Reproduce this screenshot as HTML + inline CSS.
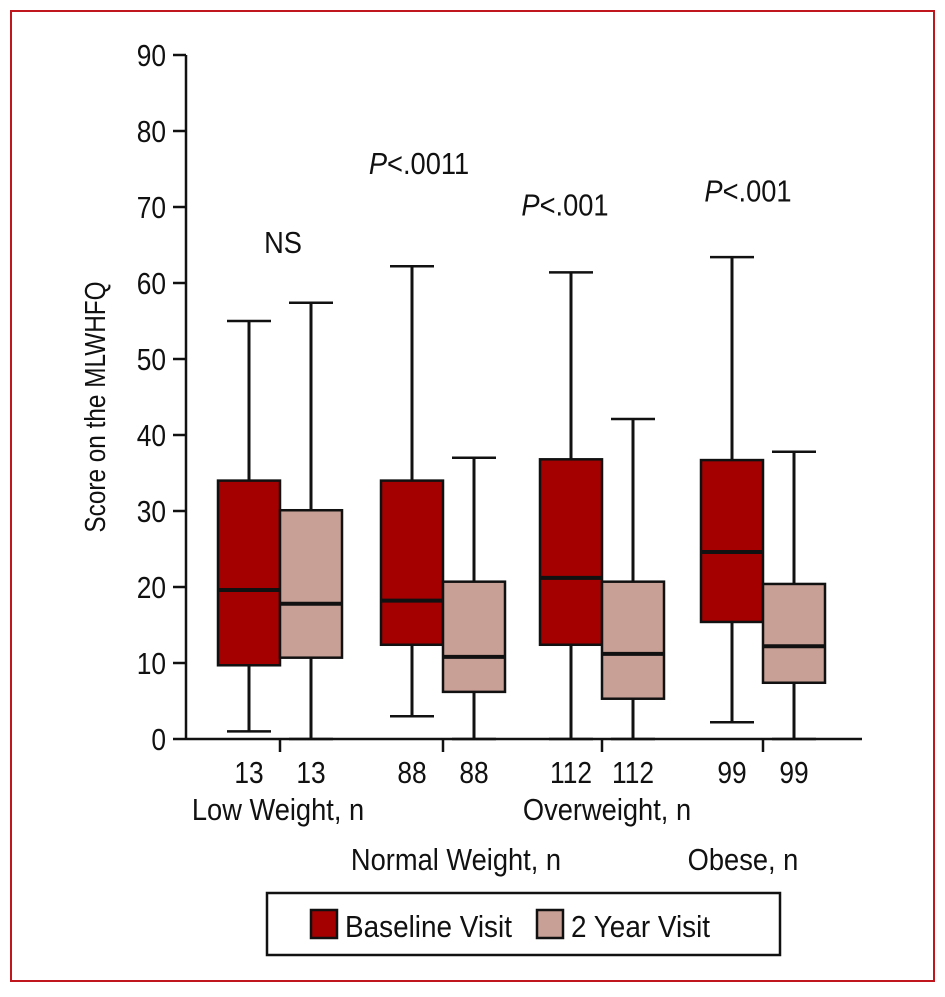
<!DOCTYPE html>
<html><head><meta charset="utf-8"><style>
body{margin:0;background:#fff}
svg text{font-family:"Liberation Sans Narrow","Liberation Sans",sans-serif;fill:#111}
</style></head><body>
<svg id="chart" width="945" height="992" xmlns="http://www.w3.org/2000/svg">
<rect x="11" y="11" width="923" height="970" fill="#fff" stroke="#c0161e" stroke-width="2"/>
<g id="plot"></g>
</svg>
<script>
const groups=["Low Weight","Normal Weight","Overweight","Obese"];
const counts=[13,88,112,99];
const pLabels=["NS","P<.0011","P<.001","P<.001"];
const pValueY=[65.4,75.8,70.3,72.2];
const baseMin=[1,3,0,2.2];
const baseQ1=[9.7,12.4,12.4,15.4];
const baseMed=[19.6,18.2,21.2,24.6];
const baseQ3=[34,34,36.8,36.7];
const baseMax=[55,62.2,61.4,63.4];
const yrMin=[0,0,0,0];
const yrQ1=[10.7,6.2,5.3,7.4];
const yrMed=[17.8,10.8,11.2,12.2];
const yrQ3=[30.1,20.7,20.7,20.4];
const yrMax=[57.4,37,42.1,37.8];
const yTicks=[0,10,20,30,40,50,60,70,80,90];

const NS="http://www.w3.org/2000/svg";
const g=document.getElementById('plot');
const y=v=>739-v*7.6;
const centers=[280,443,602,763];
const groupLabelX=[278,456,607,743];
const pLabelX=[283,419,565,748];
const bw=62;
const SX=0.88;
function mk(tag,attrs,text){const e=document.createElementNS(NS,tag);for(const k in attrs)e.setAttribute(k,attrs[k]);if(text!==undefined)e.textContent=text;g.appendChild(e);return e;}
function txt(x,yy,s,anchor,size,sx){return mk('text',{x:0,y:0,'text-anchor':anchor,'font-size':size,transform:`translate(${x},${yy}) scale(${sx||SX},1)`},s);}

let e=mk('line',{x1:186,y1:y(90),x2:186,y2:739,stroke:'#111','stroke-width':2.5});


e=mk('line',{x1:186,y1:739,x2:862,y2:739,stroke:'#111','stroke-width':2.5});


yTicks.forEach(t=>{
 let l=mk('line',{x1:173,y1:y(t),x2:186,y2:y(t),stroke:'#111','stroke-width':2.5});
 
 
 let tx=txt(166,y(t)+11,t,'end',31,0.85);
 
 
});
e=mk('text',{x:0,y:0,'font-size':29,'text-anchor':'middle',transform:'translate(105,407) rotate(-90) scale(0.84,1)'},'Score on the MLWHFQ');



function box(x,mn,q1,md,q3,mx,fill,name){
 let w=mk('line',{x1:x+bw/2,y1:y(mx),x2:x+bw/2,y2:y(mn),stroke:'#111','stroke-width':3});
 
 
 [mn,mx].forEach(v=>{let c=mk('line',{x1:x+9,y1:y(v),x2:x+bw-9,y2:y(v),stroke:'#111','stroke-width':2.5});
  
  });
 let r=mk('rect',{x:x,y:y(q3),width:bw,height:y(q1)-y(q3),fill:fill,stroke:'#111','stroke-width':2.5});
 
 
 let m=mk('line',{x1:x,y1:y(md),x2:x+bw,y2:y(md),stroke:'#111','stroke-width':4});
 
 
}
groups.forEach((gr,i)=>{
 const c=centers[i];
 box(c-bw,baseMin[i],baseQ1[i],baseMed[i],baseQ3[i],baseMax[i],'#a50000','baseline-'+i);
 box(c,yrMin[i],yrQ1[i],yrMed[i],yrQ3[i],yrMax[i],'#c9a096','two-year-'+i);
 let t=mk('line',{x1:c,y1:739,x2:c,y2:752,stroke:'#111','stroke-width':2.5});
 
 
 [c-bw/2,c+bw/2].forEach(xx=>{let n=txt(xx,783,counts[i],'middle',31,0.85);
  
  });
 let gl=txt(groupLabelX[i],(i%2===0)?820:870,gr+', n','middle',31);
 
 
 const p=pLabels[i];
 let pt=txt(pLabelX[i],y(pValueY[i])+11,'','middle',31);
 
 
 if(p.startsWith('P')){const s=document.createElementNS(NS,'tspan');s.setAttribute('font-style','italic');s.textContent='P';pt.appendChild(s);pt.appendChild(document.createTextNode(p.slice(1)));}
 else pt.textContent=p;
});
e=mk('rect',{x:267,y:893,width:513,height:62,fill:'#fff',stroke:'#111','stroke-width':2.5});


e=mk('rect',{x:311,y:910,width:26,height:28,fill:'#a50000',stroke:'#111','stroke-width':2.5});


e=txt(345,937,'Baseline Visit','start',31,0.9);


e=mk('rect',{x:537,y:910,width:26,height:28,fill:'#c9a096',stroke:'#111','stroke-width':2.5});


e=txt(571,937,'2 Year Visit','start',31,0.9);


</script>
</body></html>
